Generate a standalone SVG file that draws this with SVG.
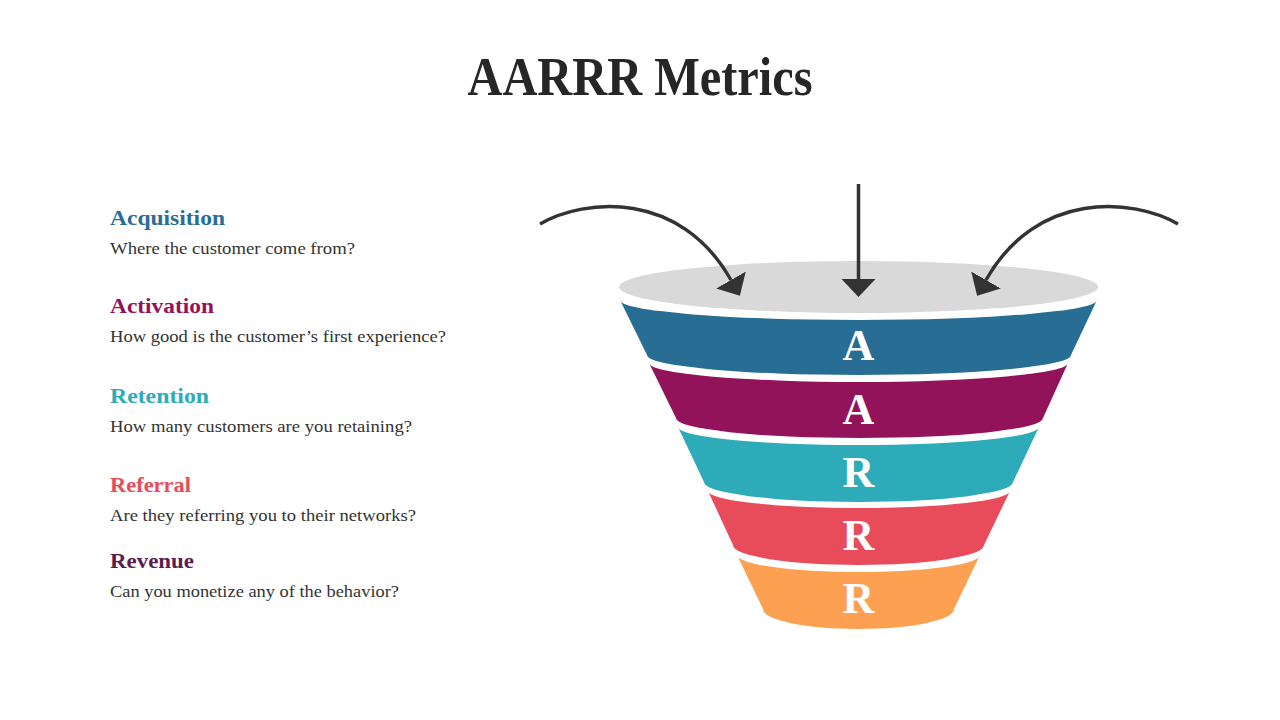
<svg xmlns="http://www.w3.org/2000/svg" width="1280" height="720" viewBox="0 0 1280 720">
<defs>
<style>
.title{font-family:"Liberation Serif",serif;font-weight:bold;font-size:54px;fill:#262626}
.head{font-family:"Liberation Serif",serif;font-weight:bold;font-size:22px}
.body{font-family:"Liberation Serif",serif;font-size:17px;fill:#333333}
.letter{font-family:"Liberation Serif",serif;font-weight:bold;font-size:44px;fill:#ffffff;text-anchor:middle}
.conn{fill:none;stroke:#333333;stroke-width:3.5}
</style>
<marker id="ah" markerUnits="userSpaceOnUse" markerWidth="20" markerHeight="36" refX="0" refY="17" orient="auto" viewBox="0 0 20 34">
<path d="M0,0 L18,17 L0,34 Z" fill="#333333"/>
</marker>
</defs>
<rect width="1280" height="720" fill="#ffffff"/>
<text class="title" x="640" y="95" text-anchor="middle" textLength="345" lengthAdjust="spacingAndGlyphs">AARRR Metrics</text>

<g id="legend-acquisition">
<text class="head" x="110" y="225" fill="#286e94" textLength="115" lengthAdjust="spacingAndGlyphs">Acquisition</text>
<text class="body" x="110" y="254" textLength="245" lengthAdjust="spacingAndGlyphs">Where the customer come from?</text>
</g>
<g id="legend-activation">
<text class="head" x="110" y="313" fill="#93135a" textLength="104" lengthAdjust="spacingAndGlyphs">Activation</text>
<text class="body" x="110" y="342" textLength="336" lengthAdjust="spacingAndGlyphs">How good is the customer’s first experience?</text>
</g>
<g id="legend-retention">
<text class="head" x="110" y="403" fill="#2dabb9" textLength="99" lengthAdjust="spacingAndGlyphs">Retention</text>
<text class="body" x="110" y="432" textLength="302" lengthAdjust="spacingAndGlyphs">How many customers are you retaining?</text>
</g>
<g id="legend-referral">
<text class="head" x="110" y="492" fill="#e84c5a" textLength="81" lengthAdjust="spacingAndGlyphs">Referral</text>
<text class="body" x="110" y="521" textLength="306" lengthAdjust="spacingAndGlyphs">Are they referring you to their networks?</text>
</g>
<g id="legend-revenue">
<text class="head" x="110" y="568" fill="#5c1d50" textLength="84" lengthAdjust="spacingAndGlyphs">Revenue</text>
<text class="body" x="110" y="597" textLength="289" lengthAdjust="spacingAndGlyphs">Can you monetize any of the behavior?</text>
</g>

<g id="funnel-top">
<ellipse cx="858.5" cy="287" rx="239.5" ry="26" fill="#d9d9d9"/>
</g>
<g id="band-acquisition">
<path d="M620,300 A238.5,20 0 0 0 1097,300 L1071,355 A212,20 0 0 1 647,355 Z" fill="#286e94"/>
<text class="letter" x="858.5" y="360">A</text>
</g>
<g id="band-activation">
<path d="M649,363 A209.5,19 0 0 0 1068,363 L1043,418 A183.5,20 0 0 1 676,418 Z" fill="#93135a"/>
<text class="letter" x="858.5" y="424">A</text>
</g>
<g id="band-retention">
<path d="M678,427 A180.5,18 0 0 0 1039,427 L1013,482 A154.5,20 0 0 1 704,482 Z" fill="#2dabb9"/>
<text class="letter" x="858.5" y="487">R</text>
</g>
<g id="band-referral">
<path d="M708,491 A151,17 0 0 0 1010,491 L984,545 A125.5,20 0 0 1 733,545 Z" fill="#e84c5a"/>
<text class="letter" x="858.5" y="550">R</text>
</g>
<g id="band-revenue">
<path d="M737,555 A121.5,17 0 0 0 980,555 L954,609 A95.5,20 0 0 1 763,609 Z" fill="#fea052"/>
<text class="letter" x="858.5" y="613">R</text>
</g>

<g id="connectors">
<path class="conn" d="M858.5,184 L858.5,279" marker-end="url(#ah)"/>
<path class="conn" d="M540,224 C585,198 680,190 731,280" marker-end="url(#ah)"/>
<path class="conn" d="M1178,224 C1133,198 1037,190 986,280" marker-end="url(#ah)"/>
</g>
</svg>
